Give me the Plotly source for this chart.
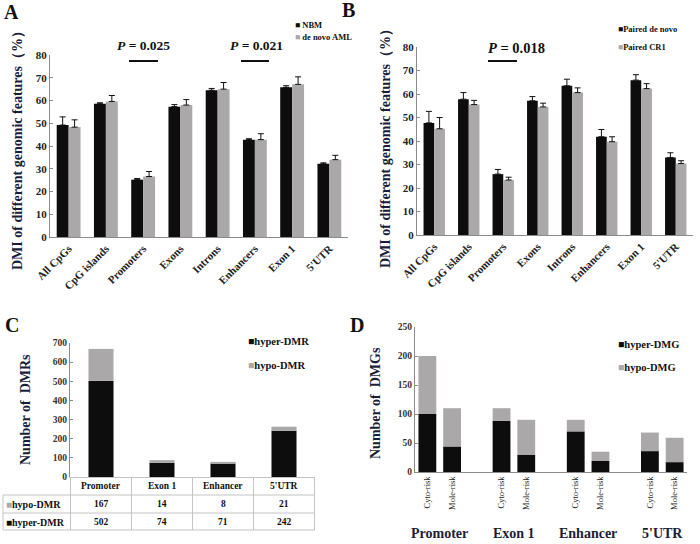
import plotly.graph_objects as go

# ---------------- data ----------------
feat_cats = ["All CpGs", "CpG islands", "Promoters", "Exons", "Introns", "Enhancers", "Exon 1", "5'UTR"]

a_nbm = [49.2, 58.6, 25.2, 57.3, 64.5, 42.8, 65.8, 32.2]
a_nbm_err = [3.6, 0.4, 0.5, 0.9, 0.8, 0.4, 0.7, 0.4]
a_aml = [48.3, 59.6, 26.6, 58.0, 65.0, 42.8, 67.1, 34.0]
a_aml_err = [3.2, 2.6, 2.2, 2.4, 2.9, 2.6, 3.3, 1.9]

b_denovo = [47.7, 57.8, 25.9, 57.1, 63.5, 41.8, 65.9, 33.0]
b_denovo_err = [4.9, 2.8, 2.0, 1.8, 2.8, 3.1, 2.3, 2.0]
b_cr1 = [45.2, 55.5, 23.4, 54.5, 60.6, 39.7, 62.3, 30.4]
b_cr1_err = [4.8, 1.8, 1.2, 1.6, 2.0, 2.1, 2.1, 1.2]

c_cats = ["Promoter", "Exon 1", "Enhancer", "5'UTR"]
c_hypo = [167, 14, 8, 21]
c_hyper = [502, 74, 71, 242]

d_groups = ["Promoter", "Exon 1", "Enhancer", "5'UTR"]
d_subs = ["Cyto-risk", "Mole-risk"]
d_hyper = [[100, 44], [88, 30], [70, 19], [36, 17]]
d_hypo = [[100, 66], [22, 60], [20, 16], [32, 42]]

a_ticks = [0, 10, 20, 30, 40, 50, 60, 70, 80]
c_ticks = [0, 100, 200, 300, 400, 500, 600, 700]
d_ticks = [0, 50, 100, 150, 200, 250]

# ---------------- style ----------------
W, H = 700, 544
FONT = "Liberation Serif"
BLACK = "#0d0d0d"
GREY = "#aaa8a8"
NAVY = "#1a1d38"
AXC = "#8c8c8c"
TABLE = "#c4c4c4"


def X(px):
    return px / W


def Y(py):
    return 1 - py / H


fig = go.Figure()

# ---- panel A ----
fig.add_trace(go.Bar(x=feat_cats, y=a_nbm, name="NBM", marker_color=BLACK, marker_line_width=0,
                     width=0.32, offset=-0.32, xaxis="x", yaxis="y",
                     error_y=dict(type="data", symmetric=False, array=a_nbm_err,
                                  arrayminus=[0] * len(a_nbm), color="#111", thickness=1, width=3)))
fig.add_trace(go.Bar(x=feat_cats, y=a_aml, name="de novo AML", marker_color=GREY, marker_line_width=0,
                     width=0.32, offset=0, xaxis="x", yaxis="y",
                     error_y=dict(type="data", symmetric=False, array=a_aml_err,
                                  arrayminus=[0] * len(a_aml), color="#111", thickness=1, width=3)))

# ---- panel B ----
fig.add_trace(go.Bar(x=feat_cats, y=b_denovo, name="Paired de novo", marker_color=BLACK, marker_line_width=0,
                     width=0.31, offset=-0.31, xaxis="x2", yaxis="y2",
                     error_y=dict(type="data", symmetric=False, array=b_denovo_err,
                                  arrayminus=[0] * len(b_denovo), color="#111", thickness=1, width=3)))
fig.add_trace(go.Bar(x=feat_cats, y=b_cr1, name="Paired CR1", marker_color=GREY, marker_line_width=0,
                     width=0.31, offset=0, xaxis="x2", yaxis="y2",
                     error_y=dict(type="data", symmetric=False, array=b_cr1_err,
                                  arrayminus=[0] * len(b_cr1), color="#111", thickness=1, width=3)))

# ---- panel C (stacked via base) ----
fig.add_trace(go.Bar(x=c_cats, y=c_hyper, name="hyper-DMR", marker_color=BLACK, marker_line_width=0,
                     width=0.41, offset=-0.205, xaxis="x3", yaxis="y3"))
fig.add_trace(go.Bar(x=c_cats, y=c_hypo, base=c_hyper, name="hypo-DMR", marker_color=GREY,
                     marker_line_width=0, width=0.41, offset=-0.205, xaxis="x3", yaxis="y3"))

# ---- panel D (stacked via base) ----
d_pos, d_hy, d_ho, d_lab = [], [], [], []
for gi, g in enumerate(d_groups):
    for si, s in enumerate(d_subs):
        d_pos.append(gi * 3 + si)
        d_hy.append(d_hyper[gi][si])
        d_ho.append(d_hypo[gi][si])
        d_lab.append(s)
fig.add_trace(go.Bar(x=d_pos, y=d_hy, name="hyper-DMG", marker_color=BLACK, marker_line_width=0,
                     width=0.72, offset=-0.36, xaxis="x4", yaxis="y4"))
fig.add_trace(go.Bar(x=d_pos, y=d_ho, base=d_hy, name="hypo-DMG", marker_color=GREY,
                     marker_line_width=0, width=0.72, offset=-0.36, xaxis="x4", yaxis="y4"))

tickf = dict(family=FONT, size=11, color="#222", weight="bold")
ylin = dict(showline=True, linecolor=AXC, linewidth=1, ticks="inside", ticklen=3, tickcolor=AXC,
            showgrid=False, zeroline=False, automargin=False)
xcom = dict(showline=True, ticks="", showgrid=False, zeroline=False, automargin=False)

fig.update_layout(
    width=W, height=H, margin=dict(l=0, r=0, t=0, b=0, autoexpand=False),
    paper_bgcolor="white", plot_bgcolor="white", showlegend=False, barmode="overlay",
    font=dict(family=FONT, color="#111"),
    xaxis=dict(domain=[X(50), X(348)], anchor="y", type="category", tickangle=-45, tickfont=tickf,
               linecolor=AXC, **xcom),
    yaxis=dict(domain=[Y(237), Y(55)], anchor="x", range=[0, 80], tickvals=a_ticks, tickfont=tickf, **ylin),
    xaxis2=dict(domain=[X(417), X(693)], anchor="y2", type="category", tickangle=-45, tickfont=tickf,
                linecolor=AXC, **xcom),
    yaxis2=dict(domain=[Y(235), Y(47)], anchor="x2", range=[0, 80], tickvals=a_ticks, tickfont=tickf, **ylin),
    xaxis3=dict(domain=[X(70), X(315)], anchor="y3", type="category", showticklabels=False,
                linecolor=TABLE, **xcom),
    yaxis3=dict(domain=[Y(477), Y(343)], anchor="x3", range=[0, 700], tickvals=c_ticks,
                tickfont=dict(family=FONT, size=9.5, color="#333", weight="bold"), **ylin),
    xaxis4=dict(domain=[X(415), X(687)], anchor="y4", range=[-0.5, 10.5], tickvals=d_pos, ticktext=d_lab,
                tickangle=-90, tickfont=dict(family=FONT, size=8.5, color="#222"),
                linecolor=AXC, **xcom),
    yaxis4=dict(domain=[Y(472), Y(327)], anchor="x4", range=[0, 250], tickvals=d_ticks,
                tickfont=dict(family=FONT, size=9.5, color="#333", weight="bold"), **ylin),
)

ann = []


def txt(x, y, text, size, xref="paper", yref="paper", angle=0, xanchor="center", color="#111",
        weight="bold"):
    ann.append(dict(x=x, y=y, xref=xref, yref=yref, text=text, showarrow=False, textangle=angle,
                    xanchor=xanchor, yanchor="middle",
                    font=dict(family=FONT, size=size, color=color, weight=weight)))


def sq(color):
    return '<span style="color:%s">■</span>' % color


# panel letters
txt(X(11), Y(12), "A", 20)
txt(X(348), Y(10), "B", 20)
txt(X(12), Y(325), "C", 20)
txt(X(357), Y(325), "D", 20)

# y titles
txt(X(17), Y(147), "DMI of different genomic features（%）", 14, angle=-90, color=NAVY)
txt(X(385), Y(145), "DMI of different genomic features（%）", 14, angle=-90, color=NAVY)
txt(X(25), Y(410), "Number of  DMRs", 14, angle=-90, color=NAVY)
txt(X(375), Y(403), "Number of  DMGs", 14, angle=-90, color=NAVY)

# legends (A, B, C, D)
txt(X(293), Y(25), sq(BLACK) + " NBM", 8.5, xanchor="left")
txt(X(293), Y(37), sq(GREY) + " de novo AML", 8.5, xanchor="left")
txt(X(616), Y(29), sq(BLACK) + "Paired de novo", 8.5, xanchor="left")
txt(X(616), Y(47), sq(GREY) + "Paired CR1", 8.5, xanchor="left")
txt(X(246), Y(341), sq(BLACK) + "hyper-DMR", 10.5, xanchor="left")
txt(X(246), Y(365), sq(GREY) + "hypo-DMR", 10.5, xanchor="left")
txt(X(616), Y(344), sq(BLACK) + "hyper-DMG", 10.5, xanchor="left")
txt(X(616), Y(367), sq(GREY) + "hypo-DMG", 10.5, xanchor="left")

# P values
txt(X(143), Y(45), "<i>P</i> = 0.025", 13.5)
txt(X(256), Y(45), "<i>P</i> = 0.021", 13.5)
txt(X(516), Y(48), "<i>P</i> = 0.018", 14.5)

shapes = []
for x0, x1, y in [(129, 158, 61), (241, 269, 61), (488, 517, 61)]:
    shapes.append(dict(type="line", xref="paper", yref="paper", x0=X(x0), x1=X(x1), y0=Y(y), y1=Y(y),
                       line=dict(color="#111", width=2)))

# panel C table
for y in [495, 513, 530]:
    shapes.append(dict(type="line", xref="paper", yref="paper", x0=X(3), x1=X(315), y0=Y(y), y1=Y(y),
                       line=dict(color=TABLE, width=1)))
shapes.append(dict(type="line", xref="paper", yref="paper", x0=X(3), x1=X(3), y0=Y(495), y1=Y(530),
                   line=dict(color=TABLE, width=1)))
for i in range(len(c_cats) + 1):
    shapes.append(dict(type="line", xref="x3", yref="paper", x0=i - 0.5, x1=i - 0.5, y0=Y(477), y1=Y(530),
                       line=dict(color=TABLE, width=1)))
for i, c in enumerate(c_cats):
    txt(c, Y(486), c, 9.5, xref="x3")
    txt(c, Y(504), str(c_hypo[i]), 9.5, xref="x3")
    txt(c, Y(522), str(c_hyper[i]), 9.5, xref="x3")
txt(X(4), Y(504), sq(GREY) + "hypo-DMR", 10, xanchor="left")
txt(X(4), Y(522), sq(BLACK) + "hyper-DMR", 10, xanchor="left")

# panel D group labels
for gi, g in enumerate(d_groups):
    txt(gi * 3 + 0.5, Y(533), g, 14, xref="x4", color=NAVY)

fig.update_layout(annotations=ann, shapes=shapes)
fig.write_html("out.html", config={"displayModeBar": False},
               post_script="document.body.style.margin='0';document.body.style.overflow='hidden';")
